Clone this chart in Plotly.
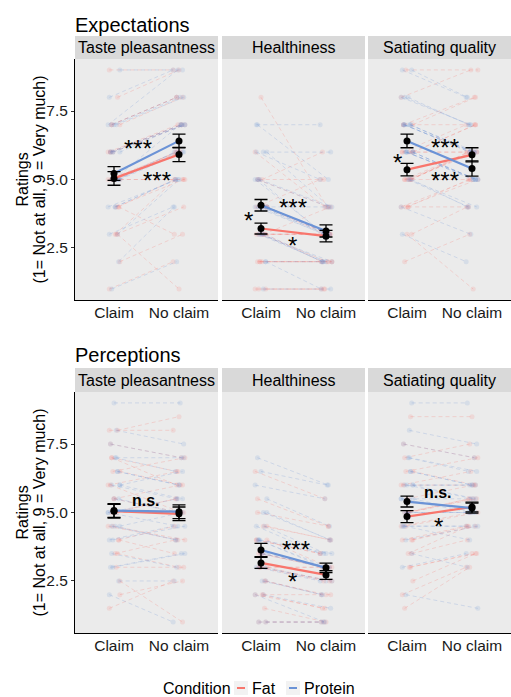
import plotly.graph_objects as go

W, H = 511, 697
FONT = "Liberation Sans, Arial, Helvetica, sans-serif"
FAT_COL = "#F8766D"
PRO_COL = "#6B93D6"
FAT_RGB = "248,118,109"
PRO_RGB = "107,147,214"

row_titles = ["Expectations", "Perceptions"]
facets = ["Taste pleasantness", "Healthiness", "Satiating quality"]
x_labels = ["Claim", "No claim"]
y_tickvals = [2.5, 5.0, 7.5]
y_ticktext = ["2.5", "5.0", "7.5"]

# ---- group means (Claim, No claim) and standard errors ----
exp_taste_fat_mean = [5.04, 5.91]
exp_taste_pro_mean = [5.22, 6.41]
exp_health_fat_mean = [3.21, 2.93]
exp_health_pro_mean = [4.06, 3.12]
exp_sat_fat_mean = [5.36, 5.90]
exp_sat_pro_mean = [6.41, 5.40]
per_taste_fat_mean = [5.05, 4.95]
per_taste_pro_mean = [5.07, 5.03]
per_health_fat_mean = [3.16, 2.72]
per_health_pro_mean = [3.63, 2.98]
per_sat_fat_mean = [4.85, 5.20]
per_sat_pro_mean = [5.40, 5.16]

exp_taste_fat_se = [0.25, 0.26]
exp_taste_pro_se = [0.25, 0.25]
exp_health_fat_se = [0.20, 0.21]
exp_health_pro_se = [0.21, 0.22]
exp_sat_fat_se = [0.23, 0.26]
exp_sat_pro_se = [0.25, 0.28]
per_taste_fat_se = [0.25, 0.25]
per_taste_pro_se = [0.25, 0.25]
per_health_fat_se = [0.20, 0.16]
per_health_pro_se = [0.24, 0.17]
per_sat_fat_se = [0.22, 0.18]
per_sat_pro_se = [0.20, 0.18]

# ---- individual participant ratings (Claim, No claim) ----
exp_taste_fat_claim = [5, 7, 3, 6, 4, 5, 1, 8, 5, 6, 3, 7, 2, 5, 6, 4, 5, 9, 3, 6, 5, 4, 7, 5]
exp_taste_fat_noclaim = [6, 8, 5, 7, 3, 6, 2, 9, 5, 7, 4, 8, 3, 6, 7, 5, 6, 9, 1, 7, 6, 5, 8, 5]
exp_taste_pro_claim = [7, 5, 4, 6, 2, 5, 8, 3, 6, 7, 5, 1, 9, 4, 6, 5, 7, 3, 5, 6, 4, 7, 5, 6]
exp_taste_pro_noclaim = [8, 6, 5, 7, 4, 7, 9, 5, 7, 9, 6, 2, 9, 5, 7, 6, 8, 4, 6, 7, 5, 8, 6, 7]

exp_health_fat_claim = [3, 4, 2, 5, 1, 3, 4, 3, 2, 6, 3, 1, 4, 5, 2, 3, 8, 3, 4, 2, 1, 3, 5, 4]
exp_health_fat_noclaim = [3, 3, 2, 4, 1, 2, 5, 3, 2, 4, 3, 1, 3, 6, 2, 2, 4, 3, 3, 2, 1, 4, 5, 3]
exp_health_pro_claim = [5, 4, 3, 7, 2, 4, 6, 4, 3, 5, 1, 4, 6, 3, 5, 2, 4, 7, 3, 5, 4, 6, 3, 4]
exp_health_pro_noclaim = [3, 3, 2, 5, 2, 3, 5, 4, 2, 3, 1, 3, 4, 2, 4, 1, 3, 7, 2, 4, 3, 6, 2, 3]

exp_sat_fat_claim = [5, 6, 4, 7, 3, 5, 6, 5, 4, 8, 5, 2, 6, 4, 7, 5, 3, 6, 5, 9, 4, 6, 5, 7]
exp_sat_fat_noclaim = [6, 7, 5, 7, 4, 6, 6, 6, 5, 9, 6, 3, 7, 4, 8, 6, 1, 7, 6, 9, 5, 6, 5, 8]
exp_sat_pro_claim = [7, 6, 8, 7, 5, 6, 9, 7, 6, 4, 7, 8, 6, 5, 7, 9, 6, 3, 7, 6, 8, 5, 7, 6]
exp_sat_pro_noclaim = [6, 5, 7, 6, 4, 5, 8, 6, 5, 3, 6, 7, 5, 4, 6, 8, 5, 2, 6, 5, 7, 4, 6, 5]

per_taste_fat_claim = [5.0, 6.5, 3.5, 7.5, 4.0, 5.5, 1.5, 8.0, 4.5, 6.0, 3.0, 7.0, 2.5, 5.0, 6.0, 4.0, 5.5, 8.0, 3.5, 6.5, 4.5, 5.0, 7.0, 2.0]
per_taste_fat_noclaim = [5.5, 6.0, 4.0, 7.0, 3.5, 5.0, 2.5, 8.5, 4.0, 6.5, 3.0, 6.0, 1.0, 5.5, 5.0, 4.5, 6.0, 8.0, 3.0, 7.0, 4.0, 5.0, 6.5, 2.5]
per_taste_pro_claim = [6.0, 4.5, 7.0, 3.0, 5.5, 9.0, 2.0, 6.5, 4.0, 5.0, 8.0, 3.5, 6.0, 4.5, 7.5, 2.5, 5.5, 4.0, 6.5, 3.0, 5.0, 7.0, 4.5, 6.0]
per_taste_pro_noclaim = [5.5, 5.0, 6.5, 3.5, 5.0, 9.0, 1.0, 6.0, 4.5, 4.5, 7.5, 3.0, 6.5, 4.0, 7.0, 2.5, 5.0, 4.5, 6.0, 3.5, 5.5, 7.0, 4.0, 5.5]

per_health_fat_claim = [3.0, 4.5, 2.0, 5.0, 1.0, 3.5, 4.0, 2.5, 3.0, 6.5, 2.0, 1.0, 4.0, 3.5, 5.5, 2.5, 3.0, 4.0, 1.5, 3.0, 2.0, 4.5, 3.5, 3.0]
per_health_fat_noclaim = [2.5, 4.0, 1.5, 4.5, 1.0, 3.0, 3.5, 2.0, 3.0, 5.5, 2.0, 1.0, 3.0, 3.0, 4.5, 2.0, 3.0, 3.5, 1.0, 2.5, 1.5, 4.0, 3.0, 2.5]
per_health_pro_claim = [4.0, 5.0, 2.5, 7.0, 1.0, 3.5, 4.5, 3.0, 4.0, 6.0, 2.0, 1.0, 5.5, 3.5, 4.0, 2.5, 6.5, 3.0, 4.5, 3.0, 2.0, 5.0, 4.0, 3.5]
per_health_pro_noclaim = [3.0, 4.0, 2.0, 6.0, 1.0, 3.0, 3.5, 2.5, 3.5, 5.5, 1.5, 1.0, 4.5, 3.0, 3.0, 2.0, 6.0, 2.5, 3.5, 2.5, 1.0, 4.0, 3.5, 3.0]

per_sat_fat_claim = [5.0, 6.5, 3.5, 7.5, 4.0, 5.0, 2.0, 8.5, 4.5, 6.0, 3.0, 7.0, 2.5, 5.0, 6.0, 3.5, 5.5, 4.0, 3.0, 6.5, 4.5, 5.0, 1.5, 4.0]
per_sat_fat_noclaim = [5.5, 6.0, 4.5, 7.0, 4.5, 5.5, 3.0, 8.5, 5.0, 6.5, 3.5, 7.5, 3.5, 5.5, 6.0, 4.0, 6.0, 4.5, 3.5, 7.0, 5.0, 5.5, 3.0, 4.5]
per_sat_pro_claim = [6.0, 5.5, 7.0, 4.5, 9.0, 5.0, 3.0, 6.5, 4.0, 5.5, 8.0, 4.5, 6.0, 5.0, 7.5, 3.5, 6.0, 4.5, 6.5, 2.0, 5.5, 7.0, 5.0, 6.0]
per_sat_pro_noclaim = [6.0, 5.0, 6.5, 4.5, 9.0, 5.0, 3.5, 6.0, 4.5, 5.0, 7.5, 4.0, 6.0, 5.0, 7.0, 3.0, 5.5, 4.5, 6.0, 1.5, 5.5, 6.5, 5.0, 5.5]

# ---- significance labels per panel: (text, x, y, bold) ----
exp_taste_sig = [("***", 1.37, 6.31, False), ("***", 1.66, 5.14, False)]
exp_health_sig = [("*", 0.80, 3.70, False), ("***", 1.49, 4.17, False), ("*", 1.49, 2.76, False)]
exp_sat_sig = [("*", 0.86, 5.79, False), ("***", 1.58, 6.34, False), ("***", 1.58, 5.14, False)]
per_taste_sig = [("n.s.", 1.49, 5.45, True)]
per_health_sig = [("***", 1.54, 3.83, False), ("*", 1.49, 2.68, False)]
per_sat_sig = [("n.s.", 1.48, 5.74, True), ("*", 1.49, 4.66, False)]

panels = [
    [  # Expectations
        (exp_taste_fat_claim, exp_taste_fat_noclaim, exp_taste_pro_claim, exp_taste_pro_noclaim,
         exp_taste_fat_mean, exp_taste_pro_mean, exp_taste_fat_se, exp_taste_pro_se, exp_taste_sig),
        (exp_health_fat_claim, exp_health_fat_noclaim, exp_health_pro_claim, exp_health_pro_noclaim,
         exp_health_fat_mean, exp_health_pro_mean, exp_health_fat_se, exp_health_pro_se, exp_health_sig),
        (exp_sat_fat_claim, exp_sat_fat_noclaim, exp_sat_pro_claim, exp_sat_pro_noclaim,
         exp_sat_fat_mean, exp_sat_pro_mean, exp_sat_fat_se, exp_sat_pro_se, exp_sat_sig),
    ],
    [  # Perceptions
        (per_taste_fat_claim, per_taste_fat_noclaim, per_taste_pro_claim, per_taste_pro_noclaim,
         per_taste_fat_mean, per_taste_pro_mean, per_taste_fat_se, per_taste_pro_se, per_taste_sig),
        (per_health_fat_claim, per_health_fat_noclaim, per_health_pro_claim, per_health_pro_noclaim,
         per_health_fat_mean, per_health_pro_mean, per_health_fat_se, per_health_pro_se, per_health_sig),
        (per_sat_fat_claim, per_sat_fat_noclaim, per_sat_pro_claim, per_sat_pro_noclaim,
         per_sat_fat_mean, per_sat_pro_mean, per_sat_fat_se, per_sat_pro_se, per_sat_sig),
    ],
]


def px(x):
    return x / W


def py(y):
    return 1 - y / H


col_px = [(75, 218), (222, 365), (368, 511)]
row_plot_px = [(59, 300), (392, 633)]
row_strip_px = [(36, 59), (368, 392)]
row_title_px = [25, 355]

fig = go.Figure()
layout = dict(
    width=W, height=H,
    margin=dict(l=0, r=0, t=0, b=0, autoexpand=False),
    paper_bgcolor="white", plot_bgcolor="#EBEBEB",
    showlegend=False,
    font=dict(family=FONT, color="#1A1A1A"),
)
shapes = []
annotations = []


def ann(x, y, text, size, xanchor="center", **kw):
    d = dict(x=x, y=y, xref="paper", yref="paper", text=text, showarrow=False,
             xanchor=xanchor, yanchor="middle",
             font=dict(size=size, color="black", family=FONT))
    d.update(kw)
    return d


def jitter(i, k):
    return ((i * k + 3 * (k % 2)) % 11 - 5) * 0.018


for r in range(2):
    for c in range(3):
        idx = r * 3 + c + 1
        xn = "x" if idx == 1 else f"x{idx}"
        yn = "y" if idx == 1 else f"y{idx}"
        fc, fn, pc, pn, fm, pm, fse, pse, sig = panels[r][c]

        # individual participant lines
        for claim, noclaim, rgb in [(fc, fn, FAT_RGB), (pc, pn, PRO_RGB)]:
            xs, ys = [], []
            for i, (a, b) in enumerate(zip(claim, noclaim)):
                xs += [1 + jitter(i, 7), 2 + jitter(i, 5), None]
                ys += [a, b, None]
            fig.add_trace(go.Scatter(
                x=xs, y=ys, xaxis=xn, yaxis=yn, mode="lines+markers",
                line=dict(color=f"rgba({rgb},0.27)", width=0.9, dash="4px,3px"),
                marker=dict(color=f"rgba({rgb},0.16)", size=5),
                hoverinfo="skip", connectgaps=False))

        # mean lines
        for m, col in [(fm, FAT_COL), (pm, PRO_COL)]:
            fig.add_trace(go.Scatter(
                x=[1, 2], y=m, xaxis=xn, yaxis=yn, mode="lines",
                line=dict(color=col, width=2.2)))
        # error bars and mean points
        for m, se in [(fm, fse), (pm, pse)]:
            fig.add_trace(go.Scatter(
                x=[1, 2], y=m, xaxis=xn, yaxis=yn, mode="markers",
                marker=dict(color="black", size=7),
                error_y=dict(type="data", array=se, color="black", thickness=1.3, width=6.5)))

        # significance labels
        for text, sx, sy, bold in sig:
            if bold:
                annotations.append(dict(
                    x=sx, y=sy, xref=xn, yref=yn, text=f"<b>{text}</b>", showarrow=False,
                    xanchor="center", yanchor="middle",
                    font=dict(size=16, color="black", family=FONT)))
            else:
                annotations.append(dict(
                    x=sx, y=sy, xref=xn, yref=yn, text=text, showarrow=False, yshift=-5,
                    xanchor="center", yanchor="middle",
                    font=dict(size=24, color="black", family=FONT)))

        x0, x1 = col_px[c]
        yt, yb = row_plot_px[r]
        layout["xaxis" if idx == 1 else f"xaxis{idx}"] = dict(
            domain=[px(x0), px(x1)], anchor=yn, range=[0.4, 2.6], automargin=False,
            tickvals=[1, 2], ticktext=x_labels, showgrid=False, zeroline=False,
            showline=True, linecolor="black", linewidth=1, ticks="",
            ticklabelstandoff=-2,
            tickfont=dict(size=15.5, color="#1A1A1A", family=FONT))
        layout["yaxis" if idx == 1 else f"yaxis{idx}"] = dict(
            domain=[py(yb), py(yt)], anchor=xn, range=[0.6, 9.4], automargin=False,
            tickvals=y_tickvals, ticktext=y_ticktext, showgrid=False, zeroline=False,
            showline=(c == 0), linecolor="black", linewidth=1,
            ticks="outside" if c == 0 else "", ticklen=3, tickcolor="#333333",
            showticklabels=(c == 0),
            tickfont=dict(size=15.5, color="#1A1A1A", family=FONT))

        # strip
        st, sb = row_strip_px[r]
        shapes.append(dict(type="rect", xref="paper", yref="paper",
                           x0=px(x0), x1=px(x1), y0=py(sb), y1=py(st),
                           fillcolor="#D9D9D9", line=dict(width=0)))
        annotations.append(ann(px((x0 + x1) / 2), py((st + sb) / 2), facets[c], 16))

    # row title
    annotations.append(ann(px(73), py(row_title_px[r]), row_titles[r], 20, xanchor="left"))
    # y-axis titles
    yt, yb = row_plot_px[r]
    annotations.append(ann(px(22), py((yt + yb) / 2), "Ratings", 16, textangle=-90))
    annotations.append(ann(px(39), py((yt + yb) / 2), "(1= Not at all, 9 = Very much)", 16,
                           textangle=-90))

# legend (drawn manually)
leg_y = 688
annotations.append(ann(px(161), py(leg_y), "Condition", 16, xanchor="left"))
for kx, col, lab, lx in [(241, FAT_COL, "Fat", 250), (293, PRO_COL, "Protein", 302)]:
    shapes.append(dict(type="rect", xref="paper", yref="paper",
                       x0=px(kx - 7), x1=px(kx + 7), y0=py(leg_y + 7), y1=py(leg_y - 7),
                       fillcolor="#F2F2F2", line=dict(width=0)))
    shapes.append(dict(type="line", xref="paper", yref="paper",
                       x0=px(kx - 4), x1=px(kx + 4), y0=py(leg_y), y1=py(leg_y),
                       line=dict(color=col, width=2)))
    annotations.append(ann(px(lx), py(leg_y), lab, 16, xanchor="left"))

layout["shapes"] = shapes
layout["annotations"] = annotations
fig.update_layout(**layout)
fig.write_html("out.html", config={"displayModeBar": False},
               post_script="document.body.style.margin='0';")
